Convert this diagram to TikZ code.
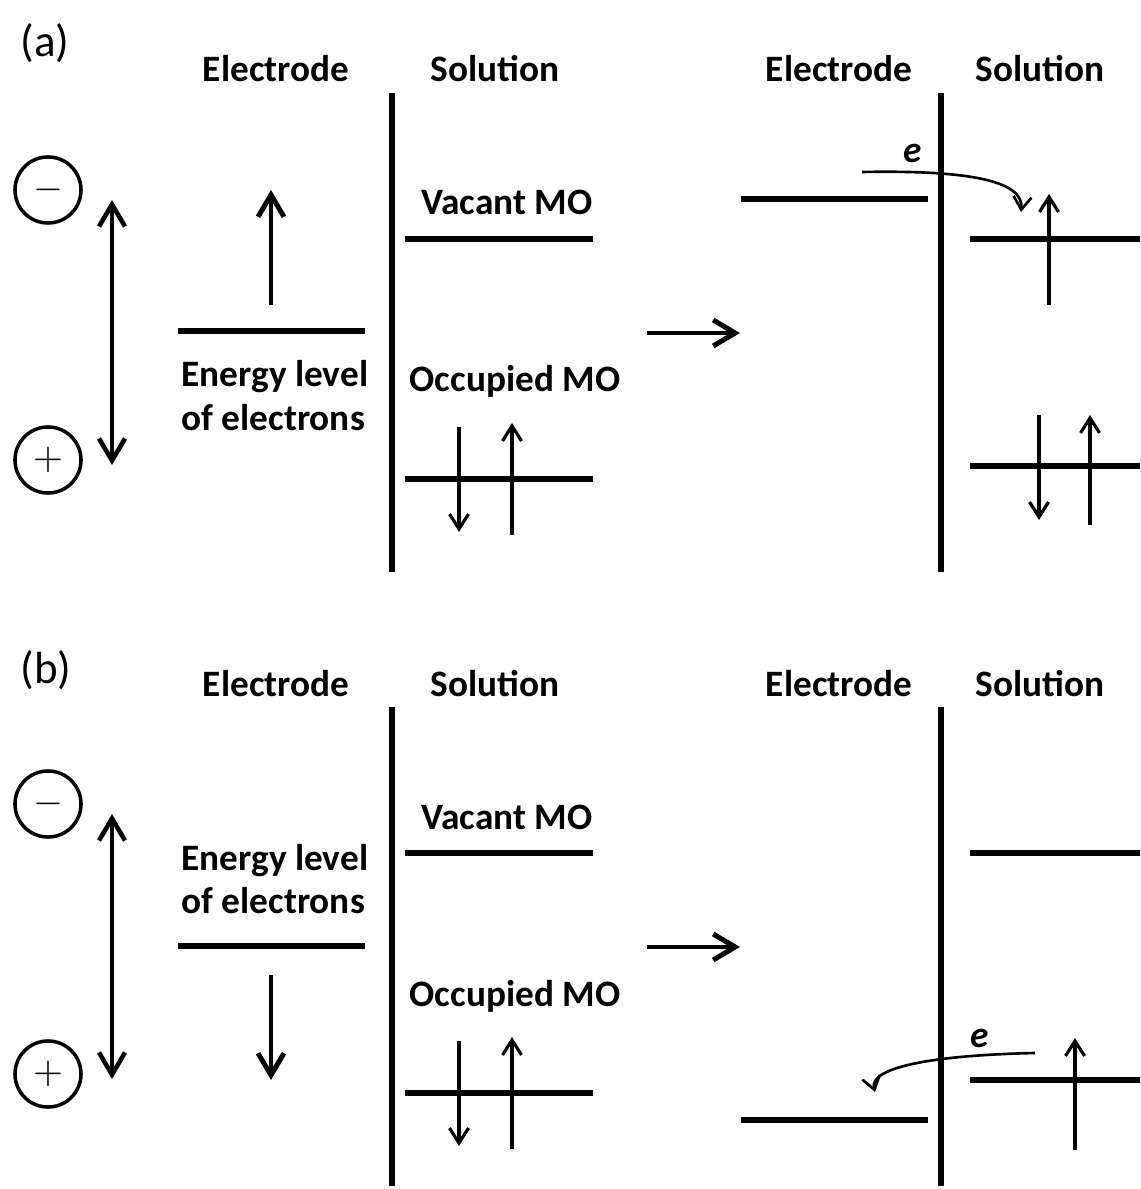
\documentclass[tikz,border=0pt]{standalone}
\usepackage{fontspec}
\setmainfont{Carlito}
\usetikzlibrary{arrows.meta}
\tikzset{
    head/.style={font=\fontsize{10.6}{12.8}\selectfont\bfseries,anchor=base,inner sep=0pt},
    tag/.style={font=\fontsize{12.8}{15}\selectfont,anchor=base west,inner sep=0pt},
    etag/.style={head,font=\fontsize{10.6}{12.8}\selectfont\bfseries\itshape},
    pole/.style={circle,draw,line width=1pt,minimum size=6.6mm,inner sep=0pt,font=\fontsize{11}{13}\selectfont},
    level/.style={line width=1.5pt},
    wall/.style={line width=1.5pt},
    move/.style={-{Straight Barb[length=2.2mm,width=2.6mm]},line width=1.4pt},
    field/.style={{Straight Barb[length=2.2mm,width=2.6mm]}-{Straight Barb[length=2.2mm,width=2.6mm]},line width=1.3pt},
    spin/.style={-{Straight Barb[length=1.5mm,width=1.9mm]},line width=0.9pt},
    hop/.style={-{Straight Barb[length=1.3mm,width=1.8mm]},line width=0.75pt},
}

\begin{document}
\begin{tikzpicture}[x=0.01cm,y=-0.01cm]
\useasboundingbox (0,0) rectangle (1140,1189);

% ---- panel (a): reduction ----
\node[tag]  (taga) at (20,57)   {(a)};
\node[head] (ela)  at (276,82)  {Electrode};
\node[head] (sla)  at (495,82)  {Solution};
\node[head] (elra) at (839,82)  {Electrode};
\node[head] (slra) at (1040,82) {Solution};
\node[head,anchor=base west] (enga) at (181,387) {Energy level};
\node[head,anchor=base west] (ofa)  at (181,431) {of electrons};
\node[head] (vaca) at (507,215) {Vacant MO};
\node[head] (occa) at (515,392) {Occupied MO};
\node[etag] (ea)   at (913,163) {e};
\node[pole] (nega) at (48,190)  {$-$};
\node[pole] (posa) at (48,460)  {$+$};

% walls and levels
\draw[wall] (392,93) -- (392,572);
\draw[wall] (941,93) -- (941,572);
\draw[level] (178,331) -- (365,331);
\draw[level] (405,239) -- (593,239);
\draw[level] (405,479) -- (593,479);
\draw[level] (741,199) -- (928,199);
\draw[level] (970,239) -- (1140,239);
\draw[level] (970,466) -- (1140,466);

% arrows
\coordinate (fta) at (112,200);  \coordinate (fba) at (112,465);
\coordinate (ua0) at (271,305);  \coordinate (ua1) at (271,190);
\coordinate (da0) at (459,427);  \coordinate (da1) at (459,532);
\coordinate (pa0) at (512,535);  \coordinate (pa1) at (512,423);
\coordinate (ga0) at (647,333);  \coordinate (ga1) at (740,333);
\coordinate (ra0) at (1049,305); \coordinate (ra1) at (1049,194);
\coordinate (qa0) at (1039,415); \coordinate (qa1) at (1039,520);
\coordinate (sa0) at (1090,525); \coordinate (sa1) at (1090,415);
\coordinate (ha0) at (862,172);  \coordinate (ha1) at (1021,212);
\draw[field] (fta) -- (fba);
\draw[move] (ua0) -- (ua1);
\draw[spin] (da0) -- (da1);
\draw[spin] (pa0) -- (pa1);
\draw[move] (ga0) -- (ga1);
\draw[spin] (ra0) -- (ra1);
\draw[spin] (qa0) -- (qa1);
\draw[spin] (sa0) -- (sa1);
\draw[hop] (ha0) .. controls (970,170) and (1024,181) .. (ha1);

% ---- panel (b): oxidation ----
\node[tag]  (tagb) at (20,683)  {(b)};
\node[head] (elb)  at (276,696)  {Electrode};
\node[head] (slb)  at (495,696)  {Solution};
\node[head] (elrb) at (839,696)  {Electrode};
\node[head] (slrb) at (1040,696) {Solution};
\node[head,anchor=base west] (engb) at (181,870) {Energy level};
\node[head,anchor=base west] (ofb)  at (181,913) {of electrons};
\node[head] (vacb) at (507,829)  {Vacant MO};
\node[head] (occb) at (515,1006) {Occupied MO};
\node[etag] (eb)   at (980,1047) {e};
\node[pole] (negb) at (48,804)   {$-$};
\node[pole] (posb) at (48,1074)  {$+$};

% walls and levels
\draw[wall] (392,707) -- (392,1186);
\draw[wall] (941,707) -- (941,1186);
\draw[level] (178,946) -- (365,946);
\draw[level] (405,853) -- (593,853);
\draw[level] (405,1093) -- (593,1093);
\draw[level] (741,1120) -- (928,1120);
\draw[level] (970,853) -- (1140,853);
\draw[level] (970,1080) -- (1140,1080);

% arrows
\coordinate (ftb) at (112,814);   \coordinate (fbb) at (112,1079);
\coordinate (ub0) at (271,975);   \coordinate (ub1) at (271,1080);
\coordinate (db0) at (459,1041);  \coordinate (db1) at (459,1146);
\coordinate (pb0) at (512,1149);  \coordinate (pb1) at (512,1037);
\coordinate (gb0) at (647,947);   \coordinate (gb1) at (740,947);
\coordinate (rb0) at (1075,1150); \coordinate (rb1) at (1075,1038);
\coordinate (hb0) at (1035,1053); \coordinate (hb1) at (875,1092);
\draw[field] (ftb) -- (fbb);
\draw[move] (ub0) -- (ub1);
\draw[spin] (db0) -- (db1);
\draw[spin] (pb0) -- (pb1);
\draw[move] (gb0) -- (gb1);
\draw[spin] (rb0) -- (rb1);
\draw[hop] (hb0) .. controls (940,1055) and (868,1066) .. (hb1);
\end{tikzpicture}
\end{document}
